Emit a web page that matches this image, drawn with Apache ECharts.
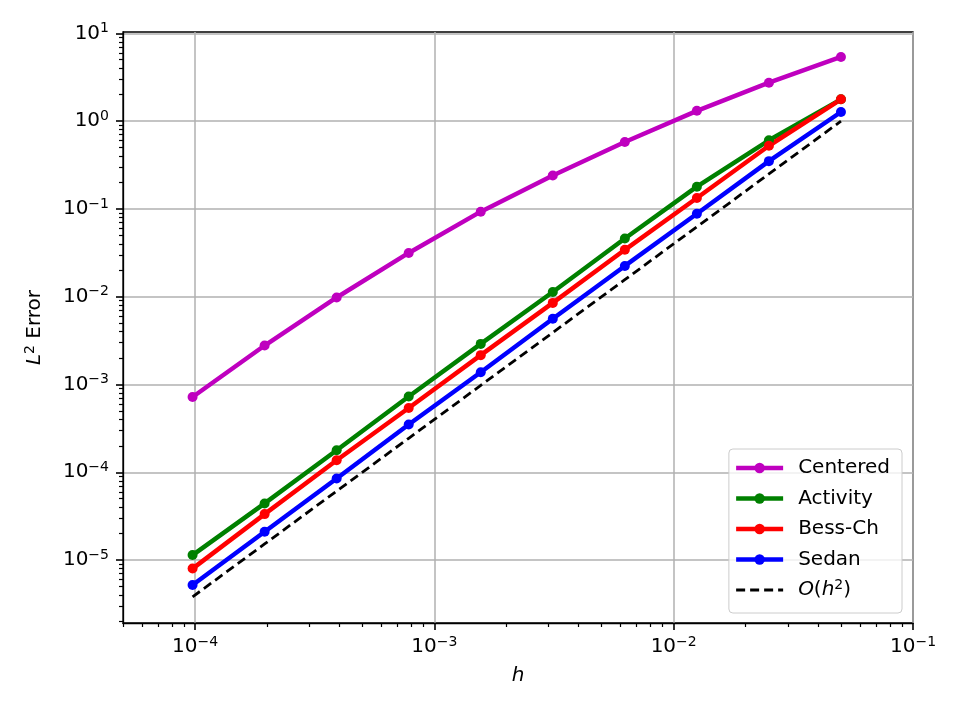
<!DOCTYPE html>
<html>
<head>
<meta charset="UTF-8">
<title>L2 Error</title>
<script src="https://cdn.jsdelivr.net/npm/echarts@6/dist/echarts.min.js"></script>
<style>
  html, body { margin: 0; padding: 0; background: #fff; }
  #main { width: 960px; height: 720px; }
</style>
</head>
<body>
<div id="main"></div>
<script type="text/javascript">
// grid spacing h
var hValues = [9.765625e-5, 1.953125e-4, 3.90625e-4, 7.8125e-4, 1.5625e-3, 3.125e-3, 6.25e-3, 1.25e-2, 2.5e-2, 5e-2];

// L2 error per method
var centered = [7.2e-4, 2.78e-3, 9.8e-3, 3.15e-2, 9.3e-2, 0.24, 0.578, 1.31, 2.74, 5.38];
var activity = [1.14e-5, 4.42e-5, 1.78e-4, 7.3e-4, 2.9e-3, 1.13e-2, 4.6e-2, 0.179, 0.605, 1.77];
var bessCh = [8.0e-6, 3.34e-5, 1.37e-4, 5.4e-4, 2.16e-3, 8.5e-3, 3.42e-2, 0.133, 0.524, 1.77];
var sedan = [5.2e-6, 2.1e-5, 8.5e-5, 3.5e-4, 1.38e-3, 5.6e-3, 2.24e-2, 8.8e-2, 0.35, 1.27];
// reference slope O(h^2)
var order2 = [3.815e-6, 1.526e-5, 6.104e-5, 2.441e-4, 9.766e-4, 3.906e-3, 1.5625e-2, 6.25e-2, 0.25, 1.0];

// major ticks
var xTicks = [1e-4, 1e-3, 1e-2, 1e-1];
var yTicks = [1e-5, 1e-4, 1e-3, 1e-2, 1e-1, 1, 10];

var xMin = 5e-5, xMax = 1e-1;
var yMin = 1.92e-6, yMax = 10.35;

// minor ticks 2..9 x 10^k inside the range
function minorTicks(lo, hi) {
    var out = [];
    for (var k = -7; k <= 2; k++) {
        for (var m = 2; m <= 9; m++) {
            var v = m * Math.pow(10, k);
            if (v >= lo && v <= hi) out.push(v);
        }
    }
    return out;
}

function pairs(ys) {
    var d = [];
    for (var i = 0; i < hValues.length; i++) d.push([hValues[i], ys[i]]);
    return d;
}

function powLabel(v) {
    var e = Math.round(Math.log10(v));
    var s = e < 0 ? '\u2212' + (-e) : '' + e;
    return '10{sup|' + s + '}';
}

var FONT = 'DejaVu Sans';
var supStyle = { fontFamily: FONT, fontSize: 14, lineHeight: 11, verticalAlign: 'top', color: '#000' };

var majorAxisCommon = {
    type: 'log',
    logBase: 10,
    axisLine: { show: true, onZero: false, lineStyle: { color: '#000', width: 1.3 } },
    axisTick: { show: true, length: 7, lineStyle: { color: '#000', width: 1.6 } },
    splitLine: { show: true, lineStyle: { color: '#b0b0b0', width: 1.5 } },
    minorTick: { show: false },
    minorSplitLine: { show: false }
};

function minorAxis(pos, lo, hi) {
    return {
        type: 'log',
        logBase: 10,
        position: pos,
        min: lo,
        max: hi,
        axisLine: { show: false, onZero: false },
        axisTick: { show: true, length: 4, customValues: minorTicks(lo, hi), lineStyle: { color: '#000', width: 1.2 } },
        axisLabel: { show: false },
        splitLine: { show: false }
    };
}

var colors = { 'Centered': '#bf00bf', 'Activity': '#008000', 'Bess-Ch': '#ff0000', 'Sedan': '#0000ff' };

var series = [
    { name: 'Centered', data: pairs(centered) },
    { name: 'Activity', data: pairs(activity) },
    { name: 'Bess-Ch', data: pairs(bessCh) },
    { name: 'Sedan', data: pairs(sedan) }
].map(function (s) {
    var c = colors[s.name];
    return {
        name: s.name,
        type: 'line',
        data: s.data,
        symbol: 'circle',
        symbolSize: 10,
        showSymbol: true,
        itemStyle: { color: c },
        lineStyle: { color: c, width: 4.5 },
        emphasis: { disabled: true }
    };
});
series.push({
    name: 'O(h2)',
    type: 'line',
    data: pairs(order2),
    symbol: 'none',
    itemStyle: { color: '#000' },
    lineStyle: { color: '#000', width: 2.8, type: [9, 5] },
    emphasis: { disabled: true }
});

var legendData = ['Centered', 'Activity', 'Bess-Ch', 'Sedan'].map(function (n) {
    return { name: n, lineStyle: { width: 4.5 } };
});
legendData.push({ name: 'O(h2)', itemStyle: { opacity: 0 }, lineStyle: { width: 3, type: [9, 5] } });

var option = {
    animation: false,
    backgroundColor: '#fff',
    grid: {
        left: 123, right: 47, top: 32, bottom: 97,
        show: true, borderColor: '#000', borderWidth: 1.3,
        outerBoundsMode: 'none'
    },
    legend: {
        orient: 'vertical',
        right: 58,
        bottom: 107,
        itemWidth: 47,
        itemHeight: 13,
        itemGap: 6.5,
        padding: [7, 12, 11, 5],
        backgroundColor: 'rgba(255,255,255,0.8)',
        borderColor: '#cccccc',
        borderWidth: 1,
        borderRadius: 4,
        data: legendData,
        formatter: function (name) {
            if (name === 'O(h2)') return '{i|O}({i|h}{sup|2})';
            return name;
        },
        textStyle: {
            fontFamily: FONT, fontSize: 20, lineHeight: 24, color: '#000',
            padding: [0, 0, 0, 10],
            rich: {
                i: { fontFamily: FONT, fontSize: 20, fontStyle: 'italic', lineHeight: 24, color: '#000' },
                sup: supStyle
            }
        }
    },
    xAxis: [
        Object.assign({}, majorAxisCommon, {
            position: 'bottom',
            min: xMin, max: xMax,
            name: 'h',
            nameLocation: 'middle',
            nameGap: 43,
            nameTextStyle: { fontFamily: FONT, fontSize: 20, fontStyle: 'italic', color: '#000' },
            axisTick: { show: true, length: 7, customValues: xTicks, lineStyle: { color: '#000', width: 1.6 } },
            axisLabel: {
                customValues: xTicks,
                margin: 12,
                formatter: powLabel,
                fontFamily: FONT, fontSize: 20, lineHeight: 24, color: '#000',
                rich: { sup: supStyle }
            }
        }),
        minorAxis('bottom', xMin, xMax)
    ],
    yAxis: [
        Object.assign({}, majorAxisCommon, {
            position: 'left',
            min: yMin, max: yMax,
            name: '{i|L}{sup|2} Error',
            nameLocation: 'middle',
            nameGap: 76,
            nameTextStyle: {
                fontFamily: FONT, fontSize: 20, lineHeight: 24, color: '#000',
                rich: {
                    i: { fontFamily: FONT, fontSize: 20, fontStyle: 'italic', lineHeight: 24, color: '#000' },
                    sup: supStyle
                }
            },
            axisTick: { show: true, length: 7, customValues: yTicks, lineStyle: { color: '#000', width: 1.6 } },
            axisLabel: {
                customValues: yTicks,
                margin: 14,
                formatter: powLabel,
                fontFamily: FONT, fontSize: 20, lineHeight: 24, color: '#000',
                rich: { sup: supStyle }
            }
        }),
        minorAxis('left', yMin, yMax)
    ],
    series: series
};

var myChart = echarts.init(document.getElementById('main'));
myChart.setOption(option);
</script>
</body>
</html>
